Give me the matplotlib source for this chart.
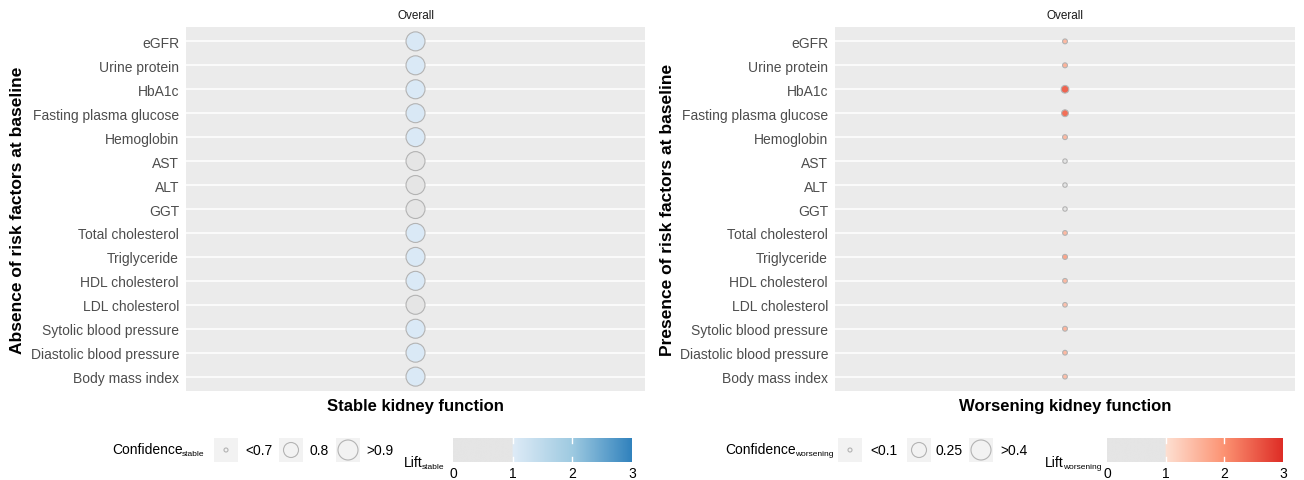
import numpy as np
import matplotlib.pyplot as plt
from matplotlib.colors import LinearSegmentedColormap, to_rgb
from matplotlib.patches import Rectangle

plt.rcParams['font.family'] = ['Liberation Sans', 'DejaVu Sans']

risk_factors = ["eGFR", "Urine protein", "HbA1c", "Fasting plasma glucose", "Hemoglobin",
                "AST", "ALT", "GGT", "Total cholesterol", "Triglyceride", "HDL cholesterol",
                "LDL cholesterol", "Sytolic blood pressure", "Diastolic blood pressure",
                "Body mass index"]

stable_conf = [0.88, 0.88, 0.88, 0.88, 0.88, 0.88, 0.88, 0.88, 0.88, 0.88, 0.88, 0.88, 0.88, 0.88, 0.88]
stable_lift = [1.08, 1.07, 1.07, 1.08, 1.06, 0.98, 0.97, 0.98, 1.06, 1.07, 1.06, 0.99, 1.07, 1.06, 1.07]

worse_conf = [0.112, 0.113, 0.15, 0.138, 0.112, 0.106, 0.106, 0.106, 0.11, 0.114, 0.11, 0.108, 0.112, 0.11, 0.11]
worse_lift = [1.5, 1.6, 2.45, 2.35, 1.5, 0.95, 0.95, 0.95, 1.5, 1.75, 1.5, 1.4, 1.55, 1.5, 1.45]

stable_breaks = [0.7, 0.8, 0.9]
stable_break_labels = ["<0.7", "0.8", ">0.9"]
worse_breaks = [0.1, 0.25, 0.4]
worse_break_labels = ["<0.1", "0.25", ">0.4"]
key_diam = [4, 15, 20]   # px diameters of the size legend keys
lift_ticks = [0, 1, 2, 3]

W, H = 1304, 481
BG = '#ebebeb'
GREY_FILL = '#e5e5e5'
EDGE = '#b3b3b3'

blues = LinearSegmentedColormap.from_list('b', ['#deebf7', '#9ecae1', '#3182bd'])
reds = LinearSegmentedColormap.from_list('r', ['#fee0d2', '#fc9272', '#de2d26'])


def lift_color(v, cmap):
    if v < 1:
        return GREY_FILL
    return cmap((min(v, 3) - 1) / 2)


def diam(conf, breaks):
    return np.interp(conf, breaks, key_diam)


def px(x, y):
    return x / W, 1 - y / H


fig = plt.figure(figsize=(W / 100, H / 100), dpi=100)
renderer = fig.canvas.get_renderer()


def sub_text(x, y, main, sub, size=10, subsize=6):
    # main text plus a small subscript placed right after it
    t = fig.text(*px(x, y), main, fontsize=size, ha='left', va='center')
    bb = t.get_window_extent(renderer)
    fig.text(*px(x + bb.width - 1, y + 5), sub, fontsize=subsize, ha='left', va='center')


def panel(x0, x1, ylab_x, conf, lift, breaks, cmap, ylab, xlab):
    l, t = px(x0, 28)
    r, b = px(x1, 392)
    ax = fig.add_axes([l, b, r - l, t - b])
    ax.set_facecolor(BG)
    n = len(risk_factors)
    ypos = np.arange(n)
    for y in ypos:
        ax.axhline(y, color='white', lw=1.1, zorder=0)
    d = diam(np.array(conf), breaks) * 0.72
    cols = [lift_color(v, cmap) for v in lift]
    ax.scatter(np.zeros(n), ypos, s=d ** 2, c=cols, edgecolors=EDGE, linewidths=0.8, zorder=3)
    ax.set_xlim(-1, 1)
    ax.set_ylim(n - 0.4, -0.6)
    ax.set_yticks(ypos)
    ax.set_yticklabels(risk_factors, fontsize=10, color='#4d4d4d')
    ax.tick_params(axis='y', length=0, pad=5)
    ax.set_xticks([])
    for s in ax.spines.values():
        s.set_visible(False)
    ax.set_ylabel(ylab, fontsize=12.5, fontweight='bold')
    ax.yaxis.set_label_coords((ylab_x - x0) / (x1 - x0), 0.5)
    ax.yaxis.label.set_verticalalignment('center')
    ax.set_xlabel(xlab, fontsize=12, fontweight='bold')
    ax.xaxis.set_label_coords(0.5, -(407 - 392) / 364)
    ax.xaxis.label.set_verticalalignment('center')
    fig.text(*px((x0 + x1) / 2, 16), "Overall", fontsize=8.5, color='#1a1a1a', ha='center', va='center')
    return ax


def legend(sub, breaks, labels, cmap, conf_x, key_x, lab_x, lift_x, bar_x0, bar_x1):
    sub_text(conf_x, 450, "Confidence", sub)
    lax = fig.add_axes([0, 0, 1, 1], zorder=-1)
    lax.set_xlim(0, W)
    lax.set_ylim(H, 0)
    lax.axis('off')
    for kx, br in zip(key_x, breaks):
        lax.add_patch(Rectangle((kx, 439), 24, 24, facecolor='#f2f2f2', edgecolor='none'))
        lax.scatter([kx + 12], [451], s=(diam(br, breaks) * 0.72) ** 2, facecolors='none',
                    edgecolors=EDGE, linewidths=0.8)
    for lx, lb in zip(lab_x, labels):
        fig.text(*px(lx, 451), lb, fontsize=10, ha='left', va='center')
    sub_text(lift_x, 463, "Lift", sub)

    l, t = px(bar_x0, 439)
    r, b = px(bar_x1, 463)
    cax = fig.add_axes([l, b, r - l, t - b])
    vals = np.linspace(0, 3, 600)
    rgb = np.array([to_rgb(lift_color(v, cmap)) for v in vals])[None, :, :]
    cax.imshow(rgb, extent=[0, 3, 0, 1], aspect='auto')
    for v in (1, 2):
        cax.plot([v, v], [0, 0.2], color='white', lw=1)
        cax.plot([v, v], [0.8, 1], color='white', lw=1)
    cax.set_xlim(0, 3)
    cax.set_ylim(0, 1)
    cax.set_yticks([])
    cax.set_xticks(lift_ticks)
    cax.set_xticklabels([str(v) for v in lift_ticks], fontsize=10)
    cax.tick_params(axis='x', length=0, pad=3)
    for s in cax.spines.values():
        s.set_visible(False)


panel(186, 645, 18, stable_conf, stable_lift, stable_breaks, blues,
      "Absence of risk factors at baseline", "Stable kidney function")
panel(835, 1295, 668, worse_conf, worse_lift, worse_breaks, reds,
      "Presence of risk factors at baseline", "Worsening kidney function")

legend("stable", stable_breaks, stable_break_labels, blues,
       112, [214, 279, 336], [245, 310, 366], 404, 453, 632)
legend("worsening", worse_breaks, worse_break_labels, reds,
       725, [838, 907, 969], [870, 936, 1000], 1045, 1107, 1283)

fig.savefig('out.png', dpi=100)
